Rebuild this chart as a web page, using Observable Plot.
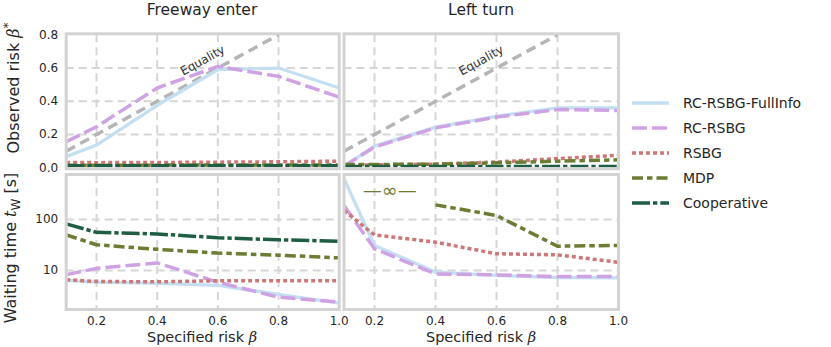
<!DOCTYPE html>
<html>
<head>
<meta charset="utf-8">
<script src="https://cdn.jsdelivr.net/npm/d3@7"></script>
<script src="https://cdn.jsdelivr.net/npm/@observablehq/plot@0.6"></script>
<style>
  body { margin: 0; background: white; }
  #root { position: relative; width: 831px; height: 347px; font-family: "DejaVu Sans", sans-serif; color: #262626; overflow: hidden; }
  .abs { position: absolute; }
  .title { font-size: 15.5px; transform: translate(-50%, -50%); white-space: nowrap; }
  .xlab { font-size: 14.5px; transform: translate(-50%, -50%); white-space: nowrap; }
  .ylab { font-size: 16px; transform: translate(-50%, -50%) rotate(-90deg); white-space: nowrap; }
  .beta { font-family: "DejaVu Serif", serif; font-style: italic; }
  .leg { font-size: 14px; white-space: nowrap; }
</style>
</head>
<body>
<div id="root"></div>
<script>
// ---------- data ----------
const scenarios = ["Freeway enter", "Left turn"];
const seriesNames = ["RC-RSBG-FullInfo", "RC-RSBG", "RSBG", "MDP", "Cooperative"];
const riskX = [0.1, 0.2, 0.4, 0.6, 0.8, 1.0];
const xTicks = [0.2, 0.4, 0.6, 0.8, 1.0];
const riskTicks = [0, 0.2, 0.4, 0.6, 0.8];
const waitTicks = [10, 100];
const equality = [0.1, 0.8];

// Observed risk, Freeway enter
const obsFwFullInfo = [0.067, 0.137, 0.376, 0.59, 0.60, 0.48];
const obsFwRC = [0.157, 0.247, 0.48, 0.61, 0.55, 0.425];
const obsFwRSBG = [0.032, 0.031, 0.032, 0.034, 0.036, 0.04];
const obsFwMDP = [0.016, 0.016, 0.016, 0.017, 0.017, 0.017];
const obsFwCoop = [0.012, 0.012, 0.012, 0.012, 0.012, 0.012];
// Observed risk, Left turn
const obsLtFullInfo = [0.01, 0.13, 0.245, 0.31, 0.36, 0.36];
const obsLtRC = [0.01, 0.125, 0.24, 0.305, 0.35, 0.345];
const obsLtRSBG = [0.015, 0.018, 0.022, 0.035, 0.055, 0.075];
const obsLtMDP = [0.02, 0.02, 0.022, 0.03, 0.04, 0.048];
const obsLtCoop = [0.008, 0.008, 0.008, 0.008, 0.008, 0.008];
// Waiting time, Freeway enter
const waitFwFullInfo = [6.4, 5.9, 5.6, 5.1, 3.4, 2.3];
const waitFwRC = [8.3, 11, 14.1, 5.9, 3.0, 2.4];
const waitFwRSBG = [6.6, 6.1, 6.0, 6.3, 6.3, 6.3];
const waitFwMDP = [50, 32, 26, 22, 20, 17.7];
const waitFwCoop = [82, 56, 52, 44, 40, 37.5];
// Waiting time, Left turn (MDP infinite for 0.1, 0.2)
const waitLtFullInfo = [630, 31, 9.3, 8.0, 7.3, 7.2];
const waitLtRC = [188, 26.7, 8.6, 8.2, 7.6, 7.6];
const waitLtRSBG = [150, 50, 36, 21.3, 20.3, 14.5];
const waitLtMDP = [null, null, 194, 120, 30, 31];
const waitLtCoop = [null, null, null, null, null, null];
const infLabel = [{x: 0.25, y: 360, text: "—∞—"}];

// ---------- styles ----------
const styles = {
  "RC-RSBG-FullInfo": {stroke: "#c4dff1", strokeWidth: 3.3, strokeDasharray: null},
  "RC-RSBG": {stroke: "#cfa2e3", strokeWidth: 3.5, strokeDasharray: "15,5"},
  "RSBG": {stroke: "#cd7878", strokeWidth: 3.5, strokeDasharray: "4,3"},
  "MDP": {stroke: "#6c7c33", strokeWidth: 3.5, strokeDasharray: "11,4,5.5,4"},
  "Cooperative": {stroke: "#1f5e43", strokeWidth: 3.5, strokeDasharray: "18,3,4.3,3"}
};
const gridStyle = {stroke: "#d6d6d6", strokeWidth: 2, strokeDasharray: "8,5"};
const frameColor = "#d3d3d3";

const toRows = ys => riskX.map((x, i) => ({x, y: ys[i]})).filter(d => d.y != null);

function lineMarks(arrs) {
  return seriesNames.map((name, i) => {
    const s = styles[name];
    const o = {x: "x", y: "y", stroke: s.stroke, strokeWidth: s.strokeWidth, clip: true,
               strokeLinecap: "butt", strokeLinejoin: "round"};
    if (s.strokeDasharray) o.strokeDasharray = s.strokeDasharray;
    return Plot.line(toRows(arrs[i]), o);
  });
}

function panel(cfg) {
  const marks = [
    Plot.ruleX(xTicks.filter(t => t < 1), gridStyle),
    Plot.ruleY(cfg.yGrid, gridStyle),
    ...(cfg.before || []),
    ...lineMarks(cfg.arrs),
    ...(cfg.after || []),
    Plot.frame({stroke: frameColor, strokeWidth: 3, insetTop: -1, insetBottom: -1})
  ];
  const p = Plot.plot({
    width: cfg.width, height: cfg.height,
    marginLeft: cfg.ml, marginRight: cfg.mr, marginTop: cfg.mt, marginBottom: cfg.mb,
    style: {background: "transparent", overflow: "visible", fontSize: "12px", fontFamily: "DejaVu Sans", color: "#262626"},
    x: {domain: [0.1, 1.0], ticks: xTicks, axis: cfg.showX ? "bottom" : null, tickSize: 0, tickPadding: 8,
        tickFormat: d3.format(".1f"), label: null},
    y: {type: cfg.ytype, domain: cfg.ydomain, ticks: cfg.yTicks, axis: cfg.showY ? "left" : null, tickSize: 0, tickPadding: 8,
        tickFormat: cfg.tickFormat, label: null},
    marks
  });
  p.style.position = "absolute";
  p.style.left = cfg.left + "px";
  p.style.top = cfg.top + "px";
  return p;
}

const root = document.getElementById("root");

const eqRows = equality.map(v => ({x: v, y: v}));
const eqLine = Plot.line(eqRows, {x: "x", y: "y", stroke: "#b5b5b5", strokeWidth: 3.5, strokeDasharray: "10,6", strokeLinecap: "butt"});
const eqText = Plot.text([{x: 0.55, y: 0.645, text: "Equality"}], {x: "x", y: "y", text: "text", rotate: -29, fontSize: 12, fill: "#333"});

// top-left
root.appendChild(panel({
  left: 0, top: 20, width: 345, height: 155, ml: 65.7, mr: 6.3, mt: 14.3, mb: 7.7,
  ytype: "linear", ydomain: [0, 0.8], yTicks: riskTicks, yGrid: riskTicks.filter(t => t > 0 && t < 0.8),
  tickFormat: d3.format(".1f"), showX: false, showY: true,
  arrs: [obsFwFullInfo, obsFwRC, obsFwRSBG, obsFwMDP, obsFwCoop],
  before: [eqLine], after: [eqText]
}));
// top-right
root.appendChild(panel({
  left: 340, top: 20, width: 290, height: 155, ml: 3.5, mr: 12, mt: 14.3, mb: 7.7,
  ytype: "linear", ydomain: [0, 0.8], yTicks: riskTicks, yGrid: riskTicks.filter(t => t > 0 && t < 0.8),
  tickFormat: d3.format(".1f"), showX: false, showY: false,
  arrs: [obsLtFullInfo, obsLtRC, obsLtRSBG, obsLtMDP, obsLtCoop],
  before: [eqLine], after: [eqText]
}));
// bottom-left
root.appendChild(panel({
  left: 0, top: 170, width: 345, height: 177, ml: 65.7, mr: 6.3, mt: 5, mb: 39,
  ytype: "log", ydomain: [1.8, 730], yTicks: waitTicks, yGrid: waitTicks,
  tickFormat: d => String(d), showX: true, showY: true,
  arrs: [waitFwFullInfo, waitFwRC, waitFwRSBG, waitFwMDP, waitFwCoop]
}));
// bottom-right
root.appendChild(panel({
  left: 340, top: 170, width: 290, height: 177, ml: 3.5, mr: 12, mt: 5, mb: 39,
  ytype: "log", ydomain: [1.8, 730], yTicks: waitTicks, yGrid: waitTicks,
  tickFormat: d => String(d), showX: true, showY: false,
  arrs: [waitLtFullInfo, waitLtRC, waitLtRSBG, waitLtMDP, waitLtCoop],
  after: [Plot.text(infLabel, {x: "x", y: "y", text: "text", fontSize: 19, fill: styles["MDP"].stroke})]
}));

function addDiv(cls, html, left, top) {
  const d = document.createElement("div");
  d.className = "abs " + cls;
  d.innerHTML = html;
  d.style.left = left + "px";
  d.style.top = top + "px";
  root.appendChild(d);
  return d;
}
addDiv("title", scenarios[0], 202, 10);
addDiv("title", scenarios[1], 481, 10);
addDiv("xlab", 'Specified risk <span class="beta">β</span>', 202, 337);
addDiv("xlab", 'Specified risk <span class="beta">β</span>', 481, 337);
addDiv("ylab", 'Observed risk <span class="beta">β</span><sup style="font-size:12px">*</sup>', 12, 88);
addDiv("ylab", 'Waiting time <span class="beta">t</span><sub style="font-size:12px">W</sub> [s]', 12, 248);

// legend
const legY = [103.3, 128.3, 153, 177.7, 202.7];
seriesNames.forEach((name, i) => {
  const s = styles[name];
  const svg = d3.create("svg").attr("width", 40).attr("height", 10)
    .style("position", "absolute").style("left", "631px").style("top", (legY[i] - 5) + "px");
  svg.append("line").attr("x1", 1).attr("x2", 38).attr("y1", 5).attr("y2", 5)
    .attr("stroke", s.stroke).attr("stroke-width", s.strokeWidth)
    .attr("stroke-dasharray", s.strokeDasharray || null);
  root.appendChild(svg.node());
  const d = addDiv("leg", name, 683, legY[i]);
  d.style.transform = "translateY(-50%)";
});
</script>
</body>
</html>
